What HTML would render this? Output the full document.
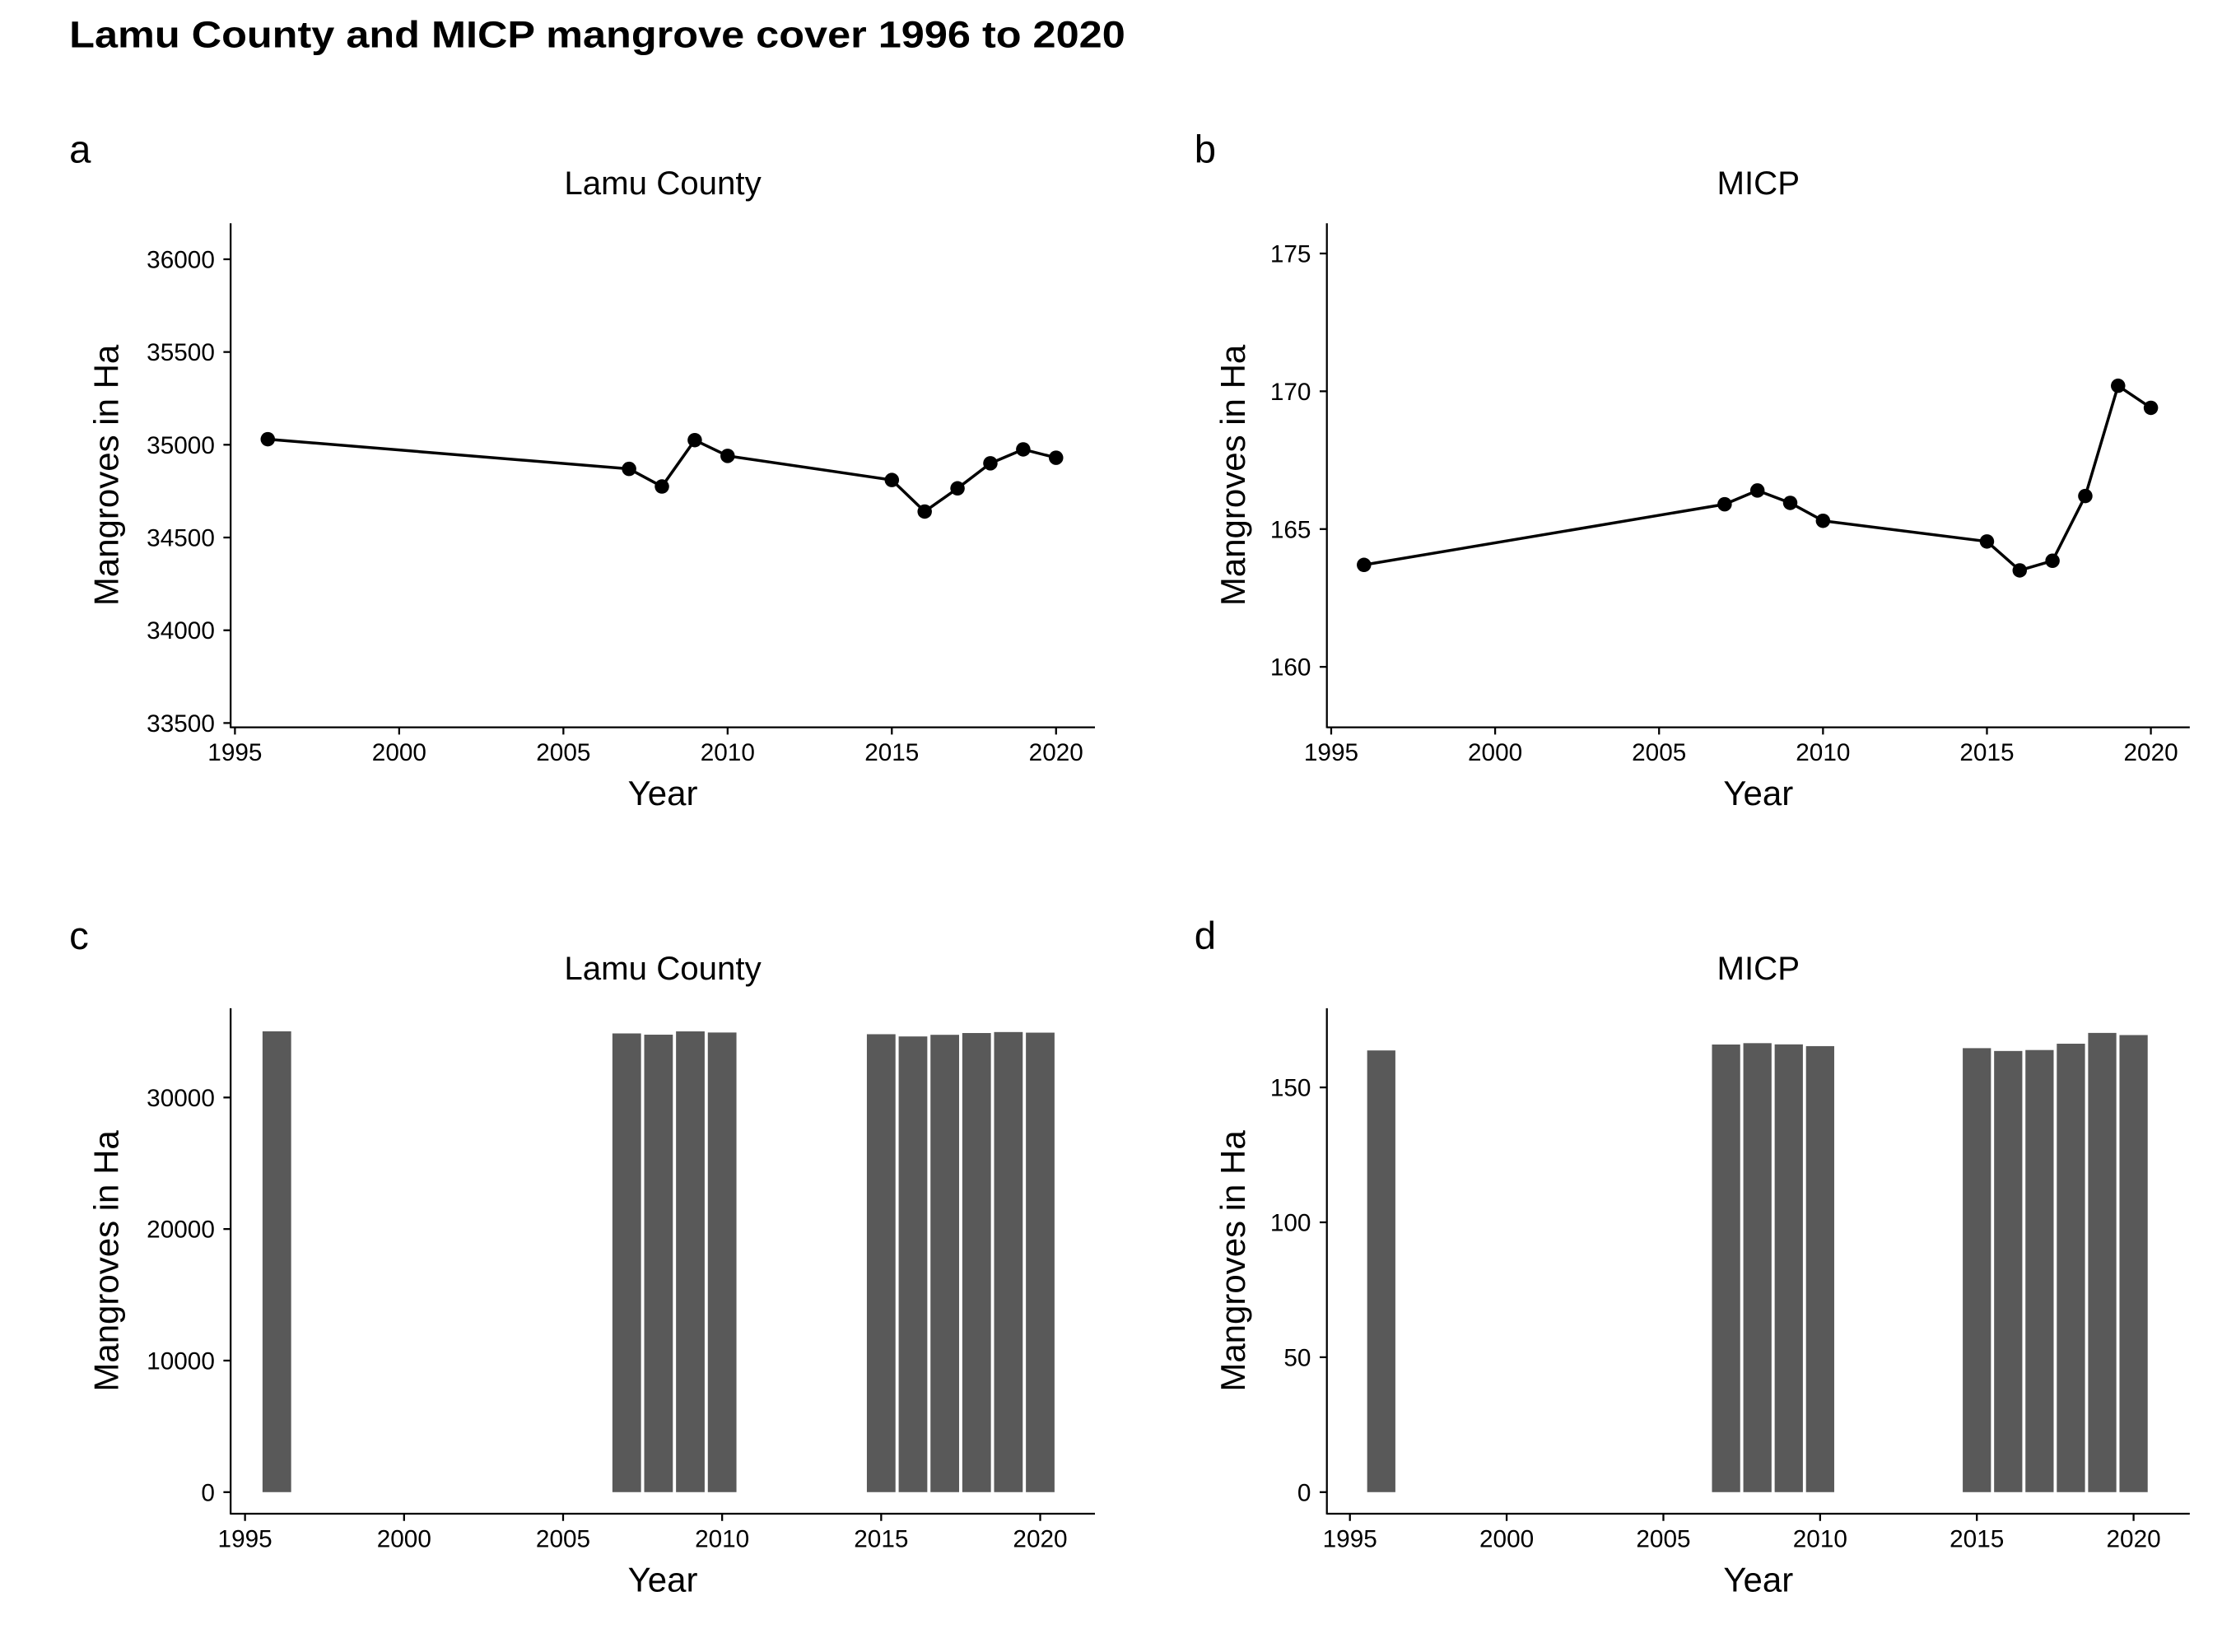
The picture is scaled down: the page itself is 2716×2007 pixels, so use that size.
<!DOCTYPE html>
<html><head><meta charset="utf-8"><style>
html,body{margin:0;padding:0;background:#fff;}
svg{display:block;font-family:"Liberation Sans",sans-serif;}
</style></head><body>
<svg id="chart" width="2716" height="2007" viewBox="0 0 1552 1147" xmlns="http://www.w3.org/2000/svg">
<rect width="1552" height="1147" fill="#fff"/>
<text x="48" y="33" font-size="26" font-weight="bold" textLength="733" lengthAdjust="spacingAndGlyphs">Lamu County and MICP mangrove cover 1996 to 2020</text>
<g id="root"></g>
</svg>
<script>
const years = [1996,2007,2008,2009,2010,2015,2016,2017,2018,2019,2020];
const lamuValues = [35030,34870,34775,35025,34940,34810,34640,34765,34900,34975,34930];
const micpValues = [163.7,165.9,166.4,165.95,165.3,164.55,163.5,163.85,166.2,170.2,169.4];
const xTicks = [1995,2000,2005,2010,2015,2020];
const lamuLineTicks = [33500,34000,34500,35000,35500,36000];
const micpLineTicks = [160,165,170,175];
const lamuBarTicks = [0,10000,20000,30000];
const micpBarTicks = [0,50,100,150];

const NS='http://www.w3.org/2000/svg';
const root=document.getElementById('root');
function mk(tag,attrs,parent,txt){const e=document.createElementNS(NS,tag);for(const k in attrs)e.setAttribute(k,attrs[k]);if(txt!==undefined)e.textContent=txt;(parent||root).appendChild(e);return e;}
function lin(d0,d1,r0,r1){return v=>r0+(v-d0)/(d1-d0)*(r1-r0);}

function panel(o){
  const g=mk('g',{});
  
  
  const x=lin(o.xd[0],o.xd[1],o.xr[0],o.xr[1]);
  const y=lin(o.yd[0],o.yd[1],o.yr[0],o.yr[1]);
  let t=mk('text',{x:o.letterX,y:o.letterY,'font-size':27},g,o.letter);
  
  t=mk('text',{x:(o.axL+o.axR)/2,y:o.top-20,'font-size':23,'text-anchor':'middle'},g,o.title);
  
  if(o.type==='line'){
    const pts=years.map((yr,i)=>x(yr)+','+y(o.vals[i])).join(' ');
    const pl=mk('polyline',{points:pts,fill:'none',stroke:'#000','stroke-width':2},g);
    
    years.forEach((yr,i)=>{const c=mk('circle',{cx:x(yr),cy:y(o.vals[i]),r:5,fill:'#000'},g);
      });
  } else {
    const w=(x(1)-x(0))*0.9;
    years.forEach((yr,i)=>{const y0=y(0),y1=y(o.vals[i]);
      const r=mk('rect',{x:x(yr)-w/2,y:y1,width:w,height:y0-y1,fill:'#595959'},g);
      });
  }
  let a=mk('line',{x1:o.axL,y1:o.top,x2:o.axL,y2:o.bot+0.5,stroke:'#000','stroke-width':1.3},g);
  
  a=mk('line',{x1:o.axL,y1:o.bot,x2:o.axR,y2:o.bot,stroke:'#000','stroke-width':1.3},g);
  
  xTicks.forEach(v=>{mk('line',{x1:x(v),y1:o.bot,x2:x(v),y2:o.bot+5,stroke:'#000','stroke-width':1.3},g);
    const tt=mk('text',{x:x(v),y:o.bot+23,'font-size':17,'text-anchor':'middle'},g,v);
    });
  o.yt.forEach(v=>{mk('line',{x1:o.axL-5,y1:y(v),x2:o.axL,y2:y(v),stroke:'#000','stroke-width':1.3},g);
    const tt=mk('text',{x:o.axL-11,y:y(v)+6,'font-size':17,'text-anchor':'end'},g,v);
    });
  t=mk('text',{x:(o.axL+o.axR)/2,y:o.bot+54,'font-size':24,'text-anchor':'middle'},g,'Year');
  
  const cy=(o.top+o.bot)/2;
  t=mk('text',{x:o.ylabX,y:cy,'font-size':24,'text-anchor':'middle',transform:'rotate(-90 '+o.ylabX+' '+cy+')'},g,'Mangroves in Ha');
  
}
panel({name:'panel-a-lamu-line',type:'line',vals:lamuValues,letter:'a',letterX:48,letterY:113,title:'Lamu County',
  axL:160,axR:760,top:155,bot:505,xd:[1995,2020],xr:[163,733],yd:[33500,36000],yr:[502,180],yt:lamuLineTicks,ylabX:82});
panel({name:'panel-b-micp-line',type:'line',vals:micpValues,letter:'b',letterX:829,letterY:113,title:'MICP',
  axL:921,axR:1520,top:155,bot:505,xd:[1995,2020],xr:[924,1493],yd:[160,175],yr:[463,176],yt:micpLineTicks,ylabX:864});
panel({name:'panel-c-lamu-bar',type:'bar',vals:lamuValues,letter:'c',letterX:48,letterY:659,title:'Lamu County',
  axL:160,axR:760,top:700,bot:1051,xd:[1995,2020],xr:[170,722],yd:[0,30000],yr:[1036,762],yt:lamuBarTicks,ylabX:82});
panel({name:'panel-d-micp-bar',type:'bar',vals:micpValues,letter:'d',letterX:829,letterY:659,title:'MICP',
  axL:921,axR:1520,top:700,bot:1051,xd:[1995,2020],xr:[937,1481],yd:[0,150],yr:[1036,755],yt:micpBarTicks,ylabX:864});
</script>
</body></html>
